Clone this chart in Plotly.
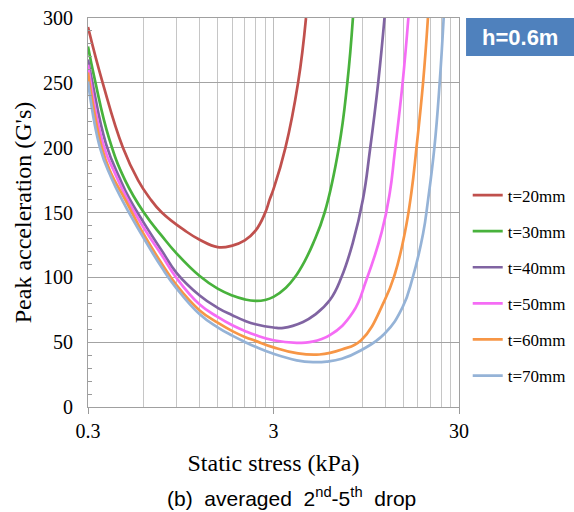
import plotly.graph_objects as go

# ---- data ----
names = ["t=20mm", "t=30mm", "t=40mm", "t=50mm", "t=60mm", "t=70mm"]
colors = ["#C0504D", "#48B23C", "#8064A2", "#F56CF5", "#F79646", "#95B3D7"]

x_t20 = [0.3, 0.36, 0.463, 0.56, 0.64, 0.75, 1.0, 1.2, 1.5, 1.8, 2.1, 2.4, 2.7, 2.86, 3.0, 3.48, 4.07, 4.49]
y_t20 = [293, 250, 200, 174.6, 161.8, 150, 136, 129, 123.3, 124.5, 128.5, 136, 149.5, 160, 168, 200, 250, 300]

x_t30 = [0.3, 0.327, 0.39, 0.475, 0.6, 0.75, 0.9, 1.2, 1.5, 1.8, 2.1, 2.4, 2.7, 3.0, 3.5, 3.91, 4.4, 4.9, 5.66, 6.75, 7.5, 8.04]
y_t30 = [278, 252, 207, 175, 150, 132, 118.5, 101, 91.3, 86, 83, 81.8, 82.5, 84.9, 92, 100, 112, 126, 150, 200, 250, 300]

x_t40 = [0.3, 0.317, 0.375, 0.446, 0.5, 0.6, 0.75, 0.9, 1.2, 1.5, 1.8, 2.1, 2.4, 3.0, 3.4, 4.33, 5.0, 6.04, 6.97, 8.04, 9.1, 9.93, 11.0, 11.9]
y_t40 = [268, 250, 203, 176, 161, 142, 120.5, 103.5, 86, 76.5, 70.8, 66.5, 63.8, 61.3, 61, 65.6, 71, 82.5, 100, 127, 160, 198, 250, 300]

x_t50 = [0.3, 0.365, 0.42, 0.485, 0.6, 0.75, 0.9, 1.2, 1.5, 1.8, 2.1, 2.4, 3.0, 4.0, 4.7, 6.04, 8.04, 9.5, 11.5, 12.7, 13.5, 14.9, 16.0]
y_t50 = [264, 201, 180, 161, 138, 117, 99.5, 79, 69.5, 63, 58.7, 55.5, 51.5, 49.5, 50, 55.4, 73, 98, 135, 165, 196, 250, 300]

x_t60 = [0.3, 0.356, 0.4, 0.476, 0.6, 0.75, 0.9, 1.2, 1.5, 1.8, 2.1, 2.4, 3.0, 4.0, 5.3, 7.0, 8.9, 11.9, 13.5, 15.3, 16.6, 17.7, 19.2, 20.4]
y_t60 = [258, 200, 180, 160, 133, 110.5, 94, 74.5, 65, 58.5, 54, 51, 46, 41.5, 40.5, 44.4, 51.5, 82, 102, 134, 165, 200, 250, 300]

x_t70 = [0.3, 0.348, 0.4, 0.461, 0.6, 0.75, 0.9, 1.2, 1.5, 1.8, 2.1, 2.4, 3.0, 4.0, 4.9, 5.8, 7.0, 8.9, 11.9, 14.9, 16.9, 19.2, 20.4, 22.1, 23.6, 24.8]
y_t70 = [251, 200, 177, 159, 130, 107.5, 91.5, 71.5, 61.5, 55, 50.2, 46.4, 41, 36, 34.6, 35, 37.2, 43.8, 56.5, 77, 100, 133.6, 159, 200, 250, 300]

xs = [x_t20, x_t30, x_t40, x_t50, x_t60, x_t70]
ys = [y_t20, y_t30, y_t40, y_t50, y_t60, y_t70]

x_major = [0.3, 3, 30]
x_major_text = ["0.3", "3", "30"]
x_minor = [0.6, 0.9, 1.2, 1.5, 1.8, 2.1, 2.4, 2.7, 6, 9, 12, 15, 18, 21, 24, 27]

fig = go.Figure()
for n, c, x, y in zip(names, colors, xs, ys):
    fig.add_trace(go.Scatter(x=x, y=y, mode="lines", name=n, legendgroup=n,
                             line=dict(color=c, width=2.7, shape="spline", smoothing=1.3)))

serif = "Liberation Serif, Times New Roman, serif"
sans = "Liberation Sans, Arial, sans-serif"
fig.update_layout(
    width=574, height=512,
    margin=dict(l=88, r=115, t=18, b=105, autoexpand=False),
    paper_bgcolor="white", plot_bgcolor="white",
    font=dict(family=serif, color="black"),
    showlegend=True,
    legend=dict(x=1.0235, y=0.590, xanchor="left", yanchor="top",
                font=dict(family=serif, size=17, color="black"),
                tracegroupgap=11, bgcolor="rgba(0,0,0,0)"),
    xaxis=dict(type="log", range=[-0.5228787, 1.4771213],
               tickvals=x_major, ticktext=x_major_text,
               ticks="outside", ticklen=6, tickcolor="#9a9a9a",
               showgrid=True, gridcolor="#bdbdbd", gridwidth=1,
               minor=dict(tickvals=x_minor, showgrid=True, gridcolor="#c6c6c6", gridwidth=1, ticks=""),
               showline=True, linecolor="#a0a0a0", mirror=True, linewidth=1,
               tickfont=dict(family=serif, size=20),
               title=dict(text="Static stress (kPa)", font=dict(family=serif, size=24), standoff=13),
               zeroline=False),
    yaxis=dict(range=[0, 300], dtick=50, tick0=0,
               ticks="", showgrid=True, gridcolor="#a3a3a3", gridwidth=1,
               minor=dict(dtick=10, ticks="inside", ticklen=4, tickcolor="#9a9a9a", showgrid=False),
               showline=True, linecolor="#a0a0a0", mirror=True, linewidth=1,
               tickfont=dict(family=serif, size=20), ticklabelstandoff=10,
               title=dict(text="Peak acceleration (G's)", font=dict(family=serif, size=24), standoff=4),
               zeroline=False),
)

# label box
fig.add_shape(type="rect", xref="paper", yref="paper", x0=1.019, x1=1.32, y0=0.902, y1=1.0,
              fillcolor="#4F81BD", line=dict(width=0), layer="above")
fig.add_annotation(xref="paper", yref="paper", x=1.165, y=0.951, xanchor="center", yanchor="middle",
                   text="<b>h=0.6m</b>", showarrow=False,
                   font=dict(family=sans, size=22, color="white"))

# caption
fig.add_annotation(xref="paper", yref="paper", x=0.549, y=-0.232, xanchor="center", yanchor="middle",
                   text="(b)  averaged  2<sup>nd</sup>-5<sup>th</sup>  drop", showarrow=False,
                   font=dict(family=sans, size=21, color="black"))

fig.write_html("out.html")
